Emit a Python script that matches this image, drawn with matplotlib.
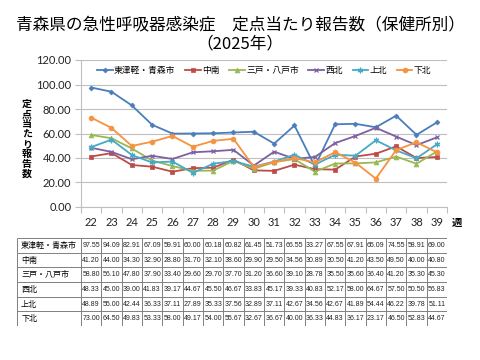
import matplotlib
matplotlib.use("Agg")
import matplotlib.pyplot as plt

plt.rcParams['font.family'] = ['Noto Sans CJK JP', 'DejaVu Sans']

weeks = ["22", "23", "24", "25", "26", "27", "28", "29", "30", "31", "32", "33", "34", "35", "36", "37", "38", "39"]
series_names = ["東津軽・青森市", "中南", "三戸・八戸市", "西北", "上北", "下北"]
higashi = [97.55, 94.09, 82.91, 67.09, 59.91, 60.00, 60.18, 60.82, 61.45, 51.73, 66.55, 33.27, 67.55, 67.91, 65.09, 74.55, 58.91, 69.00]
chunan = [41.20, 44.00, 34.30, 32.90, 28.80, 31.70, 32.10, 38.60, 29.90, 29.50, 34.56, 30.89, 30.50, 41.20, 43.50, 49.50, 40.00, 40.80]
sannohe = [58.80, 56.10, 47.80, 37.90, 33.40, 29.60, 29.70, 37.70, 31.20, 36.60, 39.10, 28.78, 35.50, 35.60, 36.40, 41.20, 35.30, 45.30]
seihoku = [48.33, 45.00, 39.00, 41.83, 39.17, 44.67, 45.50, 46.67, 33.83, 45.17, 39.33, 40.83, 52.17, 58.00, 64.67, 57.50, 50.50, 56.83]
kamikita = [48.89, 55.00, 42.44, 36.33, 37.11, 27.89, 35.33, 37.56, 32.89, 37.11, 42.67, 34.56, 42.67, 41.89, 54.44, 46.22, 39.78, 51.11]
shimokita = [73.00, 64.50, 49.83, 53.33, 58.00, 49.17, 54.00, 55.67, 32.67, 36.67, 40.00, 36.33, 44.83, 36.17, 23.17, 46.50, 52.83, 44.67]
series = [higashi, chunan, sannohe, seihoku, kamikita, shimokita]
yticks = [0, 20, 40, 60, 80, 100, 120]

colors = ["#4A7EBB", "#BE4B48", "#98B954", "#7D60A0", "#46AAC5", "#F69240"]
markers = ["D", "s", "^", "x", (6, 2, 0), "o"]
msizes = [2.5, 3, 3.5, 3.5, 4, 3.5]

W, H = 480, 360
fig = plt.figure(figsize=(4.8, 3.6), dpi=100)

def fbox(x0, y0, x1, y1):
    return [x0 / W, 1 - y1 / H, (x1 - x0) / W, (y1 - y0) / H]

ax = fig.add_axes(fbox(81, 60, 447, 207))
x = list(range(len(weeks)))
for name, vals, c, m, ms in zip(series_names, series, colors, markers, msizes):
    ax.plot(x, vals, color=c, lw=1.3, marker=m, ms=ms,
            mew=0.9 if (m == "x" or isinstance(m, tuple)) else 0.5,
            mec=c, mfc=c, label=name)

ax.set_xlim(-0.5, len(weeks) - 0.5)
ax.set_ylim(0, 120)
ax.set_yticks(yticks)
ax.set_yticklabels([f"{v:.2f}" for v in yticks], fontsize=8, family=['Lato', 'DejaVu Sans'], color="#222222")
ax.yaxis.grid(True, color="#BFBFBF", lw=0.8)
ax.set_axisbelow(True)
for s in ["top", "right"]:
    ax.spines[s].set_visible(False)
for s in ["left", "bottom"]:
    ax.spines[s].set_color("#BFBFBF")
    ax.spines[s].set_linewidth(0.8)
ax.tick_params(axis="y", length=4, color="#BFBFBF", pad=3)
ax.set_xticks([i - 0.5 for i in range(len(weeks) + 1)])
ax.set_xticklabels([])
ax.tick_params(axis="x", length=4, color="#BFBFBF")
for i, w in enumerate(weeks):
    ax.text(i, -8.5, w, ha="center", va="top", fontsize=8, family=['Lato', 'DejaVu Sans'], color="#222222")
ax.text(len(weeks) - 0.5 + 0.5, -8.5, "週", ha="center", va="top", fontsize=7.5, fontweight="bold")

ax.legend(loc="upper center", bbox_to_anchor=(0.5, 1.0), ncol=6, frameon=False, fontsize=6.3,
          handlelength=1.8, handletextpad=0.15, columnspacing=1.1, borderaxespad=0.25)

fig.text(27 / W, 1 - 139 / H, "\n".join("定点当たり報告数"), ha="center", va="center",
         fontsize=7.2, fontweight="bold", linespacing=1.0)

fig.text(0.5, 1 - 25 / H, "青森県の急性呼吸器感染症　定点当たり報告数（保健所別）", ha="center", va="center", fontsize=12)
fig.text(0.5, 1 - 44 / H, "（2025年）", ha="center", va="center", fontsize=12)

# table
colw = (447 - 81) / len(weeks)
lab_units = (81 - 17) / colw
tx = fig.add_axes(fbox(17, 238, 447, 326))
tx.set_xlim(-0.5 - lab_units, len(weeks) - 0.5)
tx.set_ylim(len(series), 0)
tx.axis("off")
xl = [-0.5 - lab_units] + [i - 0.5 for i in range(len(weeks) + 1)]
tx.vlines(xl, 0, len(series), color="#808080", lw=0.7)
tx.hlines(range(len(series) + 1), xl[0], xl[-1], color="#808080", lw=0.7)
for r, (name, vals) in enumerate(zip(series_names, series)):
    tx.text(-0.5 - lab_units + 0.2, r + 0.5, name, ha="left", va="center", fontsize=5.8)
    for i, v in enumerate(vals):
        tx.text(i, r + 0.52, f"{v:.2f}", ha="center", va="center", fontsize=5.0,
                family=['Liberation Sans', 'DejaVu Sans'], color="#222222")

fig.savefig("out.png", dpi=100)
